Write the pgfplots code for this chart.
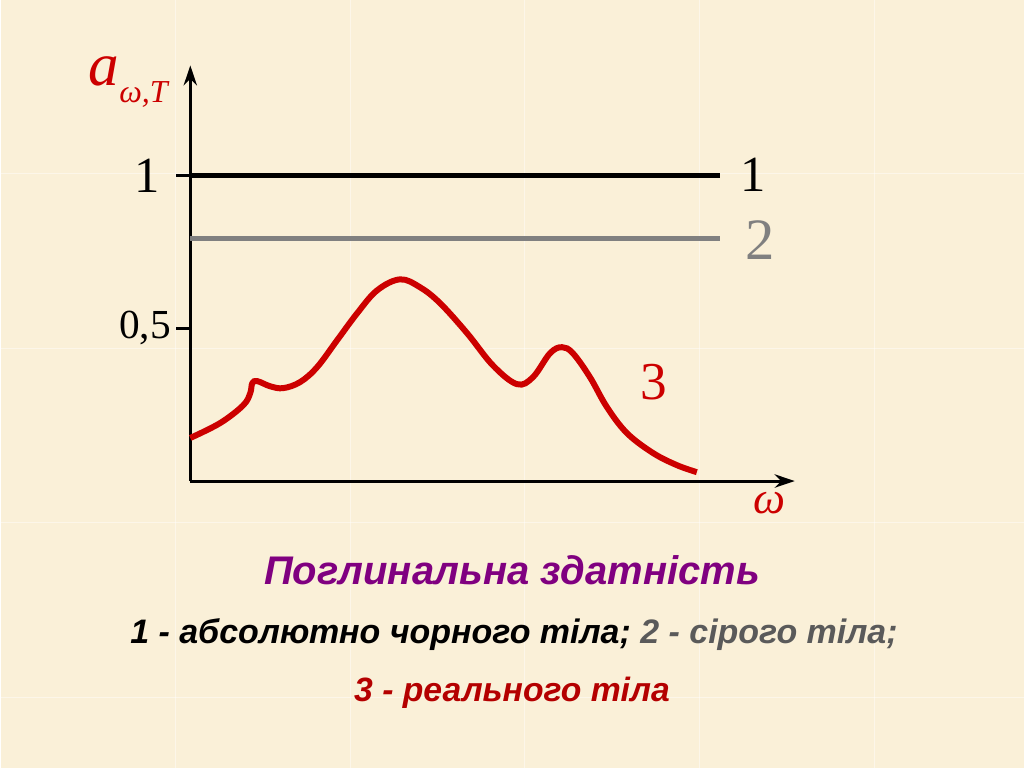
\documentclass[border=0pt]{standalone}
\usepackage{fontspec}
\setmainfont{Liberation Serif}
\newfontfamily\arial{Liberation Sans}
\usepackage{pgfplots}
\pgfplotsset{compat=1.18}
\usetikzlibrary{arrows.meta}
\definecolor{bg}{RGB}{250,240,216}
\definecolor{redc}{RGB}{204,0,0}
\definecolor{greyc}{RGB}{128,128,128}
\definecolor{greyt}{RGB}{90,90,90}
\definecolor{purp}{RGB}{128,0,128}
\definecolor{darkred}{RGB}{180,0,0}
\begin{document}
\begin{tikzpicture}[x=0.75pt,y=0.75pt]
\fill[bg] (0,0) rectangle (1024,768);
\foreach \v in {175,350,525,700,875} \draw[white,opacity=0.45,line width=0.75pt] (\v,0)--(\v,768);
\foreach \h in {595,420,245,70} \draw[white,opacity=0.45,line width=0.75pt] (0,\h)--(1024,\h);
\begin{axis}[
  at={(142.5pt,215.25pt)}, anchor=origin,
  scale only axis, width=453.75pt, height=312pt,
  xmin=0, xmax=605, ymin=0, ymax=1.36,
  axis lines=left,
  axis line style={line width=2.25pt, -{Stealth[length=15pt,width=10pt]}},
  xtick=\empty,
  ytick={0.5,1},
  yticklabels={{\fontsize{31}{31}\selectfont 0,5},{\fontsize{38}{38}\selectfont 1\rule{8pt}{0pt}}},
  tick align=outside,
  major tick length=10.5pt,
  tick style={line width=2.25pt, black},
  yticklabel style={inner sep=0pt, xshift=-4pt},
  clip=false,
]
\addplot[black, line width=3.75pt] coordinates {(0,1) (530,1)};
\addplot[greyc, line width=3.75pt] coordinates {(0,0.794) (530,0.794)};
\addplot[redc, line width=4.5pt, smooth, tension=0.6] coordinates {
(0,0.141) (30,0.190) (53,0.248) (60,0.288) (62,0.320) (67,0.327) (80,0.310)
(93,0.304) (110,0.324) (127,0.373) (147,0.461) (167,0.549) (187,0.624)
(210,0.660) (230,0.634) (250,0.582) (277,0.484) (303,0.378) (327,0.317)
(343,0.340) (360,0.418) (372,0.438) (383,0.418) (400,0.340) (417,0.242)
(437,0.157) (463,0.092) (487,0.052) (507,0.029)
};
\end{axis}
\node[font=\fontsize{38}{38}\selectfont] at (753,594) {1};
\node[greyc, font=\fontsize{44}{44}\selectfont] at (760,528) {2};
\node[redc, font=\fontsize{40}{40}\selectfont] at (654,386) {3};
\node[redc, font=\fontsize{34}{34}\selectfont\itshape] at (770,265) {ω};
\node[redc, anchor=base west, inner sep=0pt] at (88,683) {\fontsize{46}{46}\selectfont\itshape a\fontsize{24}{24}\selectfont\raisebox{-12.75pt}{ω,T}};
\node[purp, font=\arial\bfseries\itshape\fontsize{30}{30}\selectfont] at (512,198) {Поглинальна здатність};
\node[font=\arial\bfseries\itshape\fontsize{25.5}{25.5}\selectfont] at (514,133) {1 - абсолютно чорного тіла; \textcolor{greyt}{2 - сірого тіла;}};
\node[darkred, font=\arial\bfseries\itshape\fontsize{25.3}{25.3}\selectfont] at (512,75) {3 - реального тіла};
\end{tikzpicture}
\end{document}
